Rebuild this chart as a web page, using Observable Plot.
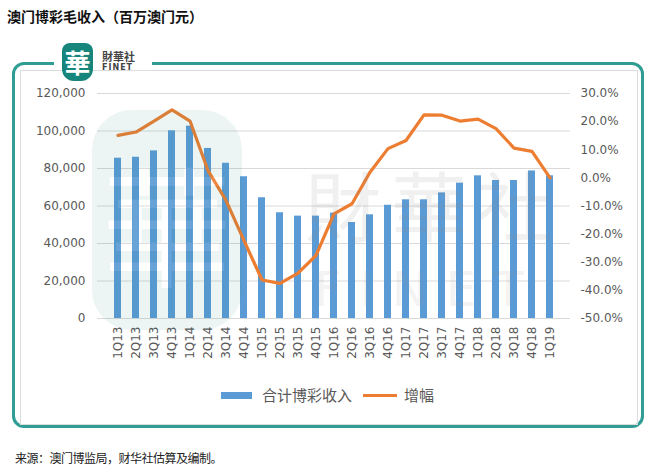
<!DOCTYPE html>
<html><head><meta charset="utf-8">
<script src="https://cdn.jsdelivr.net/npm/d3@7"></script>
<script src="https://cdn.jsdelivr.net/npm/@observablehq/plot@0.6"></script>
<style>
body{margin:0;background:#fff;}
#wrap{position:relative;width:654px;height:476px;overflow:hidden;font-family:"Noto Sans CJK SC","DejaVu Sans",sans-serif;}
#title{position:absolute;left:7px;top:6px;font-size:14px;font-weight:bold;color:#111;white-space:nowrap;}
#frame{position:absolute;left:12px;top:62px;width:626px;height:360px;border:3px solid #2f9d93;border-radius:12px;}
#inner{position:absolute;left:20px;top:70px;width:616px;height:353px;border:1px solid #dcdcdc;}
#gap{position:absolute;left:54px;top:56px;width:98px;height:14px;background:#fff;}
#logo{position:absolute;left:62px;top:43px;width:31px;height:38px;background:#16857c;border-radius:8px 8px 12px 12px;color:#fff;font-size:26px;line-height:38px;text-align:center;font-weight:bold;}
#logoT{position:absolute;left:102px;top:50px;font-size:11px;font-weight:bold;color:#444;line-height:12px;}
#logoT2{position:absolute;left:102px;top:63px;font-size:8px;font-weight:bold;color:#444;letter-spacing:1px;font-family:"DejaVu Sans",sans-serif;}
#chart{position:absolute;left:0;top:0;}
#wm1{position:absolute;left:92px;top:110px;width:150px;height:220px;border-radius:40px;background:#1a8c82;opacity:0.08;color:#fff;font-size:130px;line-height:220px;text-align:center;pointer-events:none;}
#wm2{position:absolute;left:305px;top:168px;font-size:76px;line-height:70px;color:#888;opacity:0.12;letter-spacing:10px;pointer-events:none;white-space:nowrap;}
#wm2 span{font-size:48px;letter-spacing:18px;font-family:"DejaVu Sans",sans-serif;margin-left:9px;opacity:0.75;}
#legend{position:absolute;left:0;top:385px;width:654px;height:20px;}
.lg{position:absolute;font-size:15px;color:#595959;line-height:20px;white-space:nowrap;}
#footer{position:absolute;left:15px;top:449px;font-size:12px;color:#222;letter-spacing:-0.5px;white-space:nowrap;}
</style></head>
<body>
<div id="wrap">
  <div id="title">澳门博彩毛收入（百万澳门元）</div>
  <div id="frame"></div>
  <div id="inner"></div>
  <div id="gap"></div>
  <div id="logo">華</div>
  <div id="logoT">財華社</div>
  <div id="logoT2">FINET</div>
  <div id="chart"></div>
  <div id="wm1">華</div>
  <div id="wm2">財華社<br><span>FINET</span></div>
  <div id="legend">
    <div style="position:absolute;left:221px;top:7px;width:31px;height:7px;background:#5b9bd5;"></div>
    <div class="lg" style="left:262px;top:0px;">合计博彩收入</div>
    <div style="position:absolute;left:363px;top:9px;width:34px;height:3px;background:#ed7d31;"></div>
    <div class="lg" style="left:404px;top:0px;">增幅</div>
  </div>
  <div id="footer">来源：澳门博监局，财华社估算及编制。</div>
</div>
<script>
const quarters = ["1Q13","2Q13","3Q13","4Q13","1Q14","2Q14","3Q14","4Q14","1Q15","2Q15","3Q15","4Q15","1Q16","2Q16","3Q16","4Q16","1Q17","2Q17","3Q17","4Q17","1Q18","2Q18","3Q18","4Q18","1Q19"];
const revenue = [85500,86000,89400,100100,102600,90700,82800,75600,64400,56400,54600,54600,56200,51200,55300,60400,63300,63300,67000,72200,76100,73600,73600,78700,76100];
const growth = [15.1,16.3,20.2,24.2,20.2,2.6,-8.0,-22.3,-36.3,-37.5,-33.9,-27.6,-12.8,-9.2,2.0,10.4,13.3,22.4,22.3,20.2,20.9,17.5,10.6,9.4,0.0];
const leftTicks = [0,20000,40000,60000,80000,100000,120000];
const rightTicks = [-50,-40,-30,-20,-10,0,10,20,30];

const toLeft = g => (g + 50) / 80 * 120000;
const fromLeft = v => v / 120000 * 80 - 50;
const data = quarters.map((q,i) => ({q, rev: revenue[i], g: growth[i]}));

const chart = Plot.plot({
  width: 654, height: 380,
  marginTop: 93, marginBottom: 62, marginLeft: 97, marginRight: 84,
  style: {background: "transparent", color: "#595959", fontFamily: "'DejaVu Sans', sans-serif", fontSize: "12px"},
  x: {domain: quarters, padding: 0.6, axis: null, label: null},
  y: {domain: [0, 120000], axis: null, label: null},
  marks: [
    Plot.gridY(leftTicks, {stroke: "#d9d9d9", strokeOpacity: 1}),
    Plot.barY(data, {x: "q", y: "rev", fill: "#5b9bd5"}),
    Plot.line(data, {x: "q", y: d => toLeft(d.g), stroke: "#ed7d31", strokeWidth: 3.2, strokeLinejoin: "round"}),
    Plot.axisY({ticks: leftTicks, tickFormat: d3.format(","), tickSize: 0, tickPadding: 12, fontSize: 12, label: null}),
    Plot.axisY({anchor: "right", ticks: rightTicks.map(toLeft), tickFormat: v => fromLeft(v).toFixed(1) + "%", tickSize: 0, tickPadding: 10, fontSize: 12, label: null}),
    Plot.axisX({tickRotate: -90, tickSize: 0, tickPadding: 8, fontSize: 12, label: null})
  ]
});
document.getElementById("chart").appendChild(chart);
</script>
</body></html>
